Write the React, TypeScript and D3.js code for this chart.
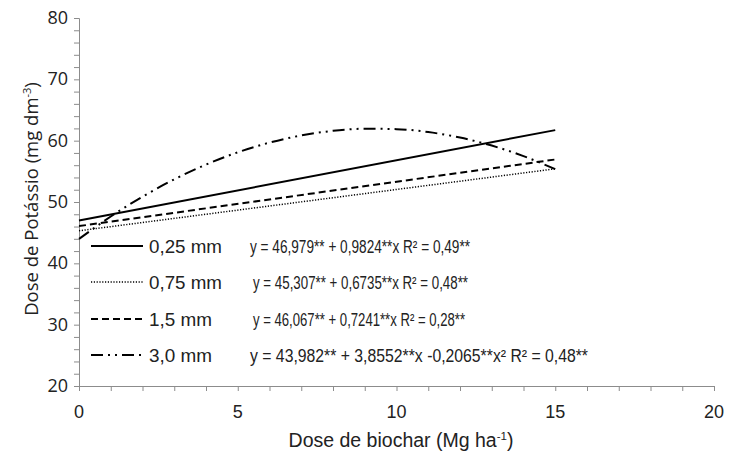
import React, { useEffect, useRef } from 'react';
import * as d3 from 'd3';

// doses of biochar (Mg/ha) used by the fitted lines
const doseLinear = [0, 15];
const k025 = [46.98, 61.72];
const k075 = [45.31, 55.41];
const k15 = [46.07, 56.93];

const doseCurve = [0, 1, 2, 3, 4, 5, 6, 7, 8, 9, 10, 11, 12, 13, 14, 15];
const k30 = [43.98, 47.63, 50.87, 53.69, 56.1, 58.1, 59.68, 60.85, 61.61, 61.95, 61.88, 61.4, 60.51, 59.2, 57.48, 55.35];

const legendNames = ['0,25 mm', '0,75 mm', '1,5 mm', '3,0 mm'];
const equations = [
  'y = 46,979** + 0,9824**x R² = 0,49**',
  'y = 45,307** + 0,6735**x  R² = 0,48**',
  'y = 46,067** + 0,7241**x   R² = 0,28**',
  'y = 43,982** + 3,8552**x -0,2065**x²  R² = 0,48**',
];

const xTicks = [0, 5, 10, 15, 20];
const yTicks = [20, 30, 40, 50, 60, 70, 80];

const App = () => {
  const ref = useRef<SVGSVGElement>(null);

  useEffect(() => {
    const svg = d3.select(ref.current);
    svg.selectAll('*').remove();

    const x = d3.scaleLinear().domain([0, 20]).range([79, 714]);
    const y = d3.scaleLinear().domain([20, 80]).range([386, 18]);
    const axisColor = '#8c8c8c';

    // x axis
    const gx = svg.append('g').attr('transform', `translate(0,${y(20)})`);
    gx.call(d3.axisBottom(x).tickValues(d3.range(0, 21, 1)).tickSize(5).tickFormat(() => ''));
    gx.select('.domain').attr('stroke', axisColor);
    gx.selectAll('.tick line').attr('stroke', axisColor);
    gx.selectAll('.tick text').remove();
    svg.append('g').selectAll('text')
      .data(xTicks)
      .enter().append('text')
      .attr('x', d => x(d))
      .attr('y', 418)
      .attr('text-anchor', 'middle')
      .attr('font-family', 'Liberation Sans, Arial, sans-serif')
      .attr('font-size', 18)
      .attr('fill', '#222')
      .text(d => d);

    // y axis
    const gy = svg.append('g').attr('transform', `translate(${x(0)},0)`);
    gy.call(d3.axisLeft(y).tickValues(d3.range(20, 81, 2)).tickSize(5).tickFormat(() => ''));
    gy.select('.domain').attr('stroke', axisColor);
    gy.selectAll('.tick line').attr('stroke', axisColor);
    gy.selectAll('.tick text').remove();
    svg.append('g').selectAll('text')
      .data(yTicks)
      .enter().append('text')
      .attr('x', 68)
      .attr('y', d => y(d) + 6)
      .attr('text-anchor', 'end')
      .attr('font-family', 'Open Sans, sans-serif')
      .attr('font-size', 18)
      .attr('fill', '#222')
      .text(d => d);

    // titles
    const xt = svg.append('text')
      .attr('x', 401)
      .attr('y', 447)
      .attr('text-anchor', 'middle')
      .attr('font-family', 'Liberation Sans, Arial, sans-serif')
      .attr('font-size', 19.5)
      .attr('fill', '#222');
    xt.append('tspan').text('Dose de biochar (Mg ha');
    xt.append('tspan').attr('font-size', 11.5).attr('dy', -7).text('-1');
    xt.append('tspan').attr('dy', 7).text(')');

    const yt = svg.append('text')
      .attr('transform', 'translate(38,199) rotate(-90)')
      .attr('text-anchor', 'middle')
      .attr('font-family', 'Open Sans, sans-serif')
      .attr('font-size', 18.5)
      .attr('fill', '#222');
    yt.append('tspan').text('Dose de Potássio (mg dm');
    yt.append('tspan').attr('font-size', 11).attr('dy', -7).text('-3');
    yt.append('tspan').attr('dy', 7).text(')');

    const styles = [
      { dash: null, width: 2 },
      { dash: '1.2,1.6', width: 1.5 },
      { dash: '7,4', width: 2 },
      { dash: '12,5,2,5,2,5', width: 2 },
    ];

    const line = d3.line<[number, number]>()
      .x(d => x(d[0]))
      .y(d => y(d[1]));

    const series: [number, number][][] = [
      doseLinear.map((d, i) => [d, k025[i]]),
      doseLinear.map((d, i) => [d, k075[i]]),
      doseLinear.map((d, i) => [d, k15[i]]),
      doseCurve.map((d, i) => [d, k30[i]]),
    ];

    series.forEach((s, i) => {
      svg.append('path')
        .datum(s)
        .attr('fill', 'none')
        .attr('stroke', '#000')
        .attr('stroke-width', styles[i].width)
        .attr('stroke-dasharray', styles[i].dash)
        .attr('d', i === 3 ? line.curve(d3.curveMonotoneX)(s) : line.curve(d3.curveLinear)(s));
    });

    // legend
    const rows = [246, 282, 319, 355];
    const nameW = [73, 73, 63, 63];
    const eqX = [250, 253, 253, 250];
    const eqW = [220, 215, 212, 338];
    legendNames.forEach((name, i) => {
      svg.append('line')
        .attr('x1', 91).attr('x2', 143)
        .attr('y1', rows[i]).attr('y2', rows[i])
        .attr('stroke', '#000')
        .attr('stroke-width', styles[i].width)
        .attr('stroke-dasharray', styles[i].dash);
      svg.append('text')
        .attr('x', 149).attr('y', rows[i] + 7)
        .attr('font-family', 'Liberation Sans, Arial, sans-serif')
        .attr('font-size', 18)
        .attr('textLength', nameW[i])
        .attr('lengthAdjust', 'spacingAndGlyphs')
        .attr('fill', '#222')
        .text(name);
      svg.append('text')
        .attr('x', eqX[i]).attr('y', rows[i] + 7)
        .attr('font-family', 'Liberation Sans, Arial, sans-serif')
        .attr('font-size', 18)
        .attr('textLength', eqW[i])
        .attr('lengthAdjust', 'spacingAndGlyphs')
        .attr('fill', '#222')
        .text(equations[i]);
    });
  }, []);

  return (
    <svg
      ref={ref}
      width={737}
      height={454}
      style={{ position: 'absolute', left: 0, top: 0, background: '#fff' }}
    />
  );
};

export default App;
